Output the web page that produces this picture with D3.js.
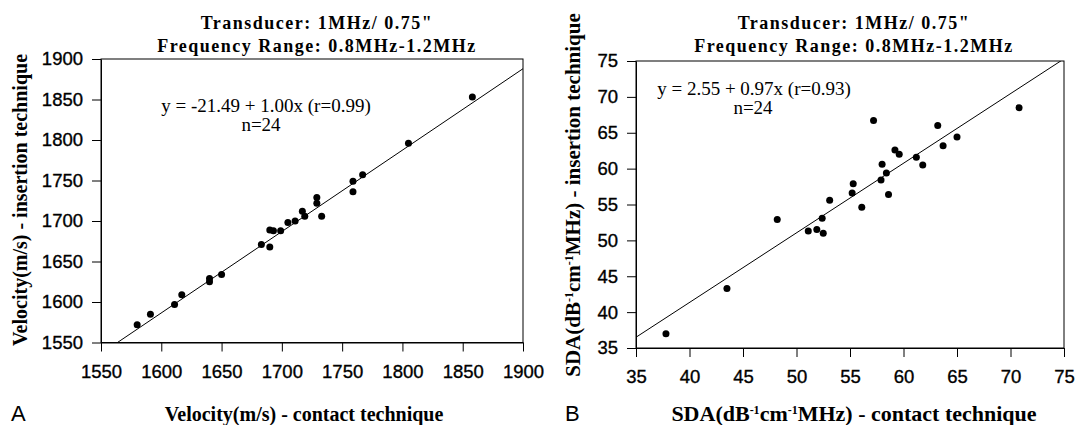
<!DOCTYPE html>
<html>
<head>
<meta charset="utf-8">
<script src="https://cdn.jsdelivr.net/npm/d3@7"></script>
<style>
  body { margin: 0; background: #fff; }
  .tick text { font-family: "Liberation Sans", Arial, sans-serif; font-size: 18.5px; fill: #000; stroke: #000; stroke-width: 0.35; }
  .tick line, .domain { stroke: #000; stroke-width: 1; }
  .title { font-family: "Liberation Serif", "Times New Roman", serif; font-weight: bold; font-size: 18px; letter-spacing: 1.5px; }
  .axis-label { font-family: "Liberation Serif", "Times New Roman", serif; font-weight: bold; }
  .eq { font-family: "Liberation Serif", "Times New Roman", serif; font-size: 19px; }
  .panel-id { font-family: "Liberation Sans", Arial, sans-serif; font-size: 22px; }
</style>
</head>
<body>
<svg id="chart" width="1077" height="425"></svg>
<script>
// panel A: velocity (m/s), contact vs insertion
const velContact = [1580, 1591, 1611, 1617, 1640, 1640, 1650, 1683, 1690, 1693, 1690, 1699,
  1705, 1711, 1717, 1719, 1729, 1729, 1733, 1759, 1759, 1767, 1805, 1858];
const velInsertion = [1572, 1585, 1597, 1609, 1629, 1625, 1634, 1671, 1689, 1688, 1668, 1688,
  1698, 1700, 1712, 1706, 1729, 1722, 1706, 1749, 1736, 1757, 1796, 1853];
const velTicks = [1550, 1600, 1650, 1700, 1750, 1800, 1850, 1900];
const velFit = [-21.49, 1.005]; // intercept, slope

// panel B: SDA, contact vs insertion
const sdaContact = [37.8, 43.5, 48.2, 51.1, 51.9, 52.4, 52.5, 53.1, 55.3, 55.2, 56.1, 57.2,
  57.9, 58.0, 58.4, 58.6, 59.2, 59.6, 61.2, 61.8, 63.2, 63.7, 65.0, 70.8];
const sdaInsertion = [37.0, 43.3, 52.9, 51.3, 51.5, 53.1, 51.0, 55.6, 57.9, 56.6, 54.6, 66.7,
  58.4, 60.6, 59.4, 56.4, 62.6, 62.0, 61.6, 60.5, 66.0, 63.2, 64.4, 68.5];
const sdaTicks = [35, 40, 45, 50, 55, 60, 65, 70, 75];
const sdaFit = [2.55, 0.97];

const titleLines = ["Transducer: 1MHz/ 0.75\"", "Frequency Range: 0.8MHz-1.2MHz"];

const svg = d3.select("#chart");

// writes text made of [string, isSuperscript] pieces
function richText(sel, parts, supSize) {
  let back = 0;
  parts.forEach(([s, sup]) => {
    const t = sel.append("tspan").text(s);
    if (sup) {
      t.attr("font-size", supSize + "px").attr("dy", -supSize * 0.6 + back);
      back = supSize * 0.6;
    } else {
      if (back) t.attr("dy", back);
      back = 0;
    }
  });
}

function drawPanel(p) {
  const g = svg.append("g");
  const x = d3.scaleLinear().domain(p.domain).range([p.left, p.right]);
  const y = d3.scaleLinear().domain(p.domain).range([p.bottom, p.top]);

  // titles
  titleLines.forEach((t, i) => {
    g.append("text").attr("class", "title").attr("text-anchor", "middle")
      .attr("x", p.titleX).attr("y", 29 + i * 23).text(t);
  });

  // frame
  g.append("rect")
    .attr("x", p.left).attr("y", p.top)
    .attr("width", p.right - p.left).attr("height", p.bottom - p.top)
    .attr("fill", "none").attr("stroke", "#000");

  g.append("g").attr("transform", `translate(0,${p.bottom})`)
    .call(d3.axisBottom(x).tickValues(p.ticks).tickFormat(d3.format("d"))
      .tickSize(9).tickPadding(13).tickSizeOuter(0));
  g.append("g").attr("transform", `translate(${p.left},0)`)
    .call(d3.axisLeft(y).tickValues(p.ticks).tickFormat(d3.format("d"))
      .tickSize(9).tickPadding(9).tickSizeOuter(0));

  // regression line, clipped to the plot box
  g.append("clipPath").attr("id", p.id + "-clip")
    .append("rect")
    .attr("x", p.left).attr("y", p.top)
    .attr("width", p.right - p.left).attr("height", p.bottom - p.top);
  const fitLine = d3.line().x((d) => x(d)).y((d) => y(p.fit[0] + p.fit[1] * d));
  g.append("path")
    .attr("clip-path", `url(#${p.id}-clip)`)
    .attr("d", fitLine(p.domain))
    .attr("fill", "none").attr("stroke", "#000").attr("stroke-width", 1);

  // points
  g.selectAll(".pt").data(p.xs).enter()
    .append("circle").attr("class", "pt")
    .attr("cx", (d) => x(d))
    .attr("cy", (d, i) => y(p.ys[i]))
    .attr("r", 3.5).attr("fill", "#000");

  // equation
  g.append("text").attr("class", "eq").attr("text-anchor", "middle")
    .attr("x", p.eqX).attr("y", p.eqY).text(p.eq);
  g.append("text").attr("class", "eq").attr("text-anchor", "middle")
    .attr("x", p.nX).attr("y", p.eqY + 19).text("n=24");

  // axis labels
  const xl = g.append("text").attr("class", "axis-label").attr("text-anchor", "middle")
    .attr("font-size", p.xLabelSize + "px")
    .attr("x", p.xLabelX).attr("y", 421);
  richText(xl, p.xLabel, p.supSize);
  const yl = g.append("text").attr("class", "axis-label").attr("text-anchor", "middle")
    .attr("font-size", p.yLabelSize + "px")
    .attr("transform", `translate(${p.yLabelX},${p.yLabelY}) rotate(-90)`);
  richText(yl, p.yLabel, p.supSize);

  g.append("text").attr("class", "panel-id")
    .attr("x", p.idX).attr("y", 421).text(p.id);
}

drawPanel({
  id: "A", domain: [1550, 1900], ticks: velTicks, xs: velContact, ys: velInsertion, fit: velFit,
  left: 101, right: 523, top: 59, bottom: 342.5,
  titleX: 317, eqX: 266, nX: 261, eqY: 112,
  eq: "y = -21.49 + 1.00x (r=0.99)",
  xLabel: [["Velocity(m/s) - contact technique"]], xLabelX: 304, xLabelSize: 20,
  yLabel: [["Velocity(m/s) - insertion technique"]], yLabelX: 27, yLabelY: 200, yLabelSize: 20,
  supSize: 12, idX: 11
});

drawPanel({
  id: "B", domain: [35, 75], ticks: sdaTicks, xs: sdaContact, ys: sdaInsertion, fit: sdaFit,
  left: 636, right: 1064, top: 61, bottom: 348,
  titleX: 854, eqX: 754, nX: 753, eqY: 95,
  eq: "y = 2.55 + 0.97x (r=0.93)",
  xLabel: [["SDA(dB"], ["-1", true], ["cm"], ["-1", true], ["MHz) - contact technique"]],
  xLabelX: 854, xLabelSize: 22,
  yLabel: [["SDA(dB"], ["-1", true], ["cm"], ["-1", true], ["MHz) - insertion technique"]],
  yLabelX: 580, yLabelY: 195, yLabelSize: 21,
  supSize: 12, idX: 565
});
</script>
</body>
</html>
